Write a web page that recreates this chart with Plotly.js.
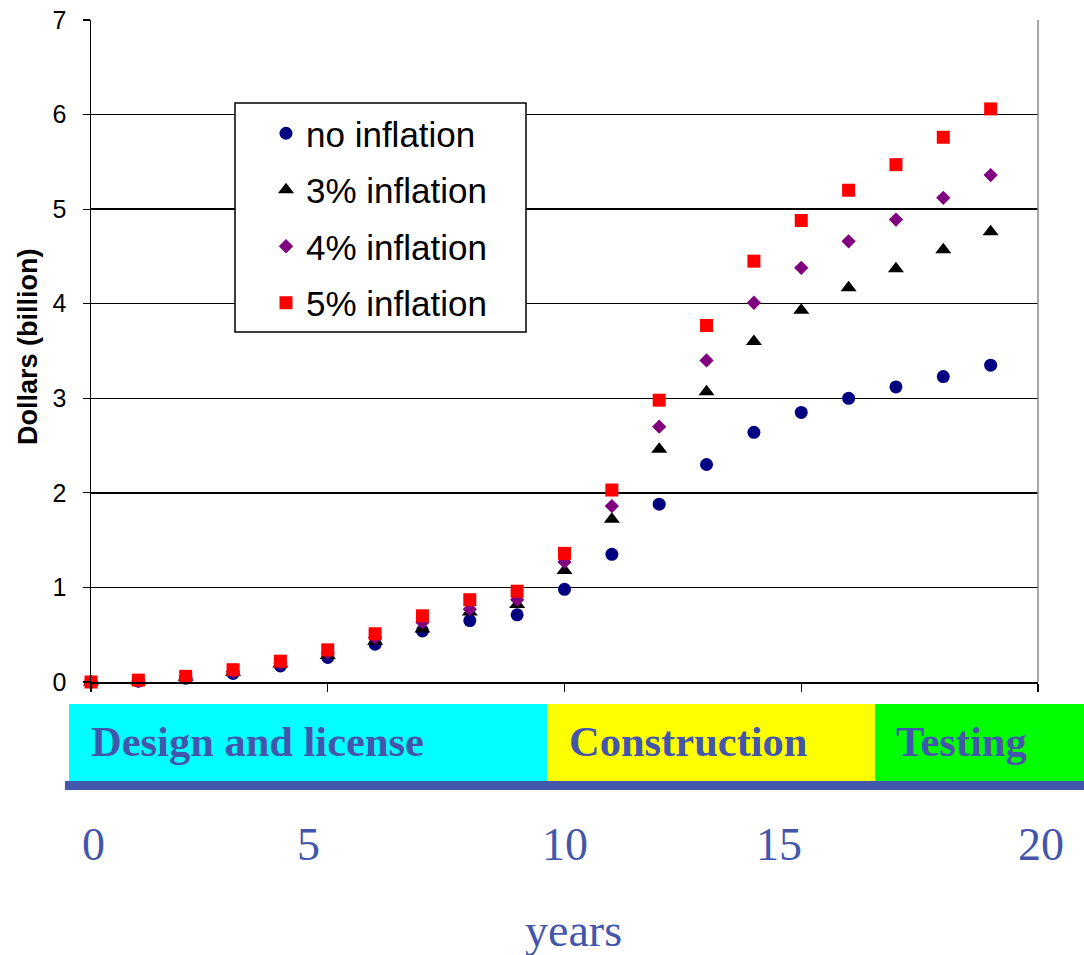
<!DOCTYPE html>
<html>
<head>
<meta charset="utf-8">
<script src="https://cdn.plot.ly/plotly-3.0.1.min.js"></script>
<style>html,body{margin:0;padding:0;background:#fff;}#chart{width:1084px;height:955px;}</style>
</head>
<body>
<div id="chart"></div>
<script>
const years = [0,1,2,3,4,5,6,7,8,9,10,11,12,13,14,15,16,17,18,19];
const noInflation = [0,0.01,0.04,0.09,0.17,0.26,0.40,0.54,0.65,0.71,0.98,1.35,1.88,2.30,2.64,2.85,3.00,3.12,3.23,3.35];
const inflation3 = [0,0.01,0.05,0.10,0.19,0.28,0.43,0.56,0.74,0.82,1.18,1.72,2.46,3.07,3.60,3.93,4.17,4.37,4.57,4.76];
const inflation4 = [0,0.01,0.05,0.11,0.20,0.31,0.47,0.63,0.77,0.87,1.27,1.86,2.70,3.40,4.01,4.38,4.66,4.89,5.12,5.36];
const inflation5 = [0,0.02,0.06,0.13,0.22,0.34,0.51,0.70,0.87,0.96,1.36,2.03,2.98,3.77,4.45,4.88,5.20,5.47,5.76,6.06];
const seriesNames = ['no inflation','3% inflation','4% inflation','5% inflation'];
const phaseLabels = ['Design and license','Construction','Testing'];
const yearTickLabels = ['0','5','10','15','20'];
const yTickVals = [0,1,2,3,4,5,6,7];

const W = 1084, H = 955, L = 91, R = 46, T = 20, B = 273;
const PW = W - L - R, PH = H - T - B;
const px = x => (x - L) / PW;
const py = y => (H - B - y) / PH;

const blue = '#4356AB';
const sans = 'Liberation Sans, Arial, sans-serif';
const serif = 'Liberation Serif, Times New Roman, serif';

function tr(y, name, color, symbol, size, grp) {
  return {x: years, y: y, name: name, type: 'scatter', mode: 'markers', cliponaxis: false,
    legendgroup: grp, marker: {color: color, symbol: symbol, size: size, line: {width: 0}}};
}
const data = [
  tr(noInflation, seriesNames[0], '#000080', 'circle', 13, 'a'),
  tr(inflation3, seriesNames[1], '#000000', 'triangle-up', 14, 'b'),
  tr(inflation4, seriesNames[2], '#800080', 'diamond', 11, 'c'),
  tr(inflation5, seriesNames[3], '#FF0000', 'square', 13, 'd')
];

const shapes = [
  {type:'rect', xref:'paper', yref:'paper', x0:px(69), x1:px(547), y0:py(704), y1:py(781), fillcolor:'#00FFFF', line:{width:0}, layer:'below'},
  {type:'rect', xref:'paper', yref:'paper', x0:px(547), x1:px(875), y0:py(704), y1:py(781), fillcolor:'#FFFF00', line:{width:0}, layer:'below'},
  {type:'rect', xref:'paper', yref:'paper', x0:px(875), x1:px(1084), y0:py(704), y1:py(781), fillcolor:'#00FF00', line:{width:0}, layer:'below'},
  {type:'rect', xref:'paper', yref:'paper', x0:px(65), x1:px(1084), y0:py(781), y1:py(790), fillcolor:'#4358AD', line:{width:0}, layer:'below'},
  {type:'line', xref:'paper', yref:'paper', x0:1, x1:1, y0:0, y1:1, line:{color:'#888', width:1.5}},
  // legend frame
  {type:'rect', xref:'paper', yref:'paper', x0:px(235), x1:px(526), y0:py(103), y1:py(332), fillcolor:'#fff', line:{color:'#000', width:1.5}, layer:'above'}
];

const annotations = [
  {text:'Dollars (billion)', xref:'paper', yref:'paper', x:px(28), y:py(347), textangle:-90, showarrow:false,
   xanchor:'center', yanchor:'middle', font:{family:sans, size:27, color:'#000', weight:'bold'}},
  {text:'<b>'+phaseLabels[0]+'</b>', xref:'paper', yref:'paper', x:px(89), y:py(741), showarrow:false, xanchor:'left', yanchor:'middle', font:{family:serif, size:42.5, color:blue}},
  {text:'<b>'+phaseLabels[1]+'</b>', xref:'paper', yref:'paper', x:px(567), y:py(741), showarrow:false, xanchor:'left', yanchor:'middle', font:{family:serif, size:42.5, color:blue}},
  {text:'<b>'+phaseLabels[2]+'</b>', xref:'paper', yref:'paper', x:px(894), y:py(741), showarrow:false, xanchor:'left', yanchor:'middle', font:{family:serif, size:42.5, color:blue}},
  {text:'years', xref:'paper', yref:'paper', x:px(573), y:py(930), showarrow:false, xanchor:'center', yanchor:'middle', font:{family:serif, size:46, color:blue}}
];
const numX = [93, 308, 565, 779, 1041];
yearTickLabels.forEach((t, i) => annotations.push({text:t, xref:'paper', yref:'paper', x:px(numX[i]), y:py(844), showarrow:false,
  xanchor:'center', yanchor:'middle', font:{family:serif, size:46, color:blue}}));

const layout = {
  width: W, height: H,
  margin: {l: L, r: R, t: T, b: B, pad: 0},
  paper_bgcolor: '#fff', plot_bgcolor: '#fff',
  showlegend: true,
  legend: {x: px(266), y: py(104), xanchor:'left', yanchor:'top', bgcolor:'rgba(0,0,0,0)', borderwidth:0,
    font:{family:sans, size:35, color:'#000'}, traceorder:'grouped', tracegroupgap: 8, itemwidth: 30},
  xaxis: {range:[0,20], tickvals:[0,5,10,15,20], showticklabels:false, ticks:'outside', ticklen:8, tickcolor:'#000', tickwidth:1.2,
    showgrid:false, zeroline:false, showline:true, linecolor:'#000', linewidth:1.5, fixedrange:true},
  yaxis: {range:[0,7], tickvals:yTickVals, ticktext:yTickVals.map(String), ticks:'outside', ticklen:7, tickcolor:'#000', tickwidth:1.2,
    showgrid:true, gridcolor:'#000', gridwidth:1.3, zeroline:false, showline:true, linecolor:'#000', linewidth:1.5,
    tickfont:{family:sans, size:25, color:'#000'}, ticklabelstandoff: 11, fixedrange:true},
  shapes: shapes,
  annotations: annotations
};
Plotly.newPlot('chart', data, layout, {displayModeBar:false, staticPlot:true});
</script>
</body>
</html>
